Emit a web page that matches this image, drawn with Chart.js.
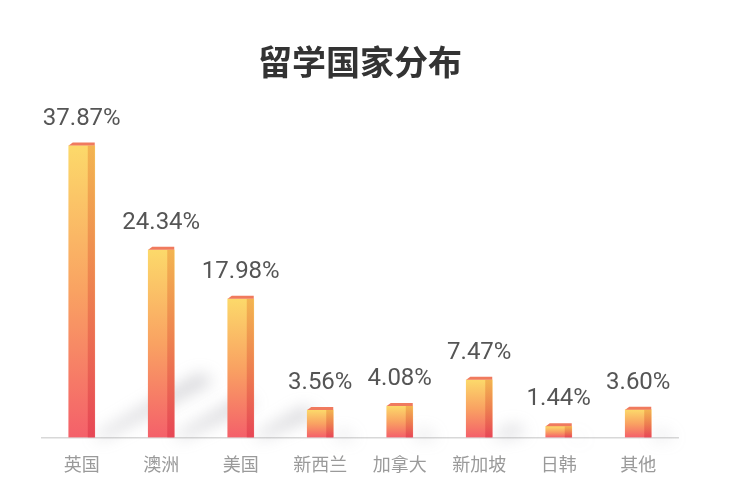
<!DOCTYPE html>
<html>
<head>
<meta charset="utf-8">
<script src="https://cdn.jsdelivr.net/npm/chart.js@4"></script>
<style>
  html, body { margin: 0; padding: 0; background: #fff; }
  #wrap { width: 736px; height: 500px; }
</style>
</head>
<body>
<div id="wrap"><canvas id="countryChart"></canvas></div>
<script>
// 留学国家分布 data
const countries = ['英国', '澳洲', '美国', '新西兰', '加拿大', '新加坡', '日韩', '其他'];
const shares = [37.87, 24.34, 17.98, 3.56, 4.08, 7.47, 1.44, 3.60];
const shareLabels = ['37.87%', '24.34%', '17.98%', '3.56%', '4.08%', '7.47%', '1.44%', '3.60%'];

// fake 3D look: ground shadow, right face, top cap
const barDecor = {
  id: 'barDecor',
  beforeDatasetsDraw(chart) {
    const ctx = chart.ctx;
    const meta = chart.getDatasetMeta(0);
    ctx.save();
    ctx.filter = 'blur(8px)';
    ctx.fillStyle = 'rgba(140,140,150,0.38)';
    meta.data.forEach(bar => {
      const h = bar.base - bar.y;
      const half = bar.width / 2;
      const dx = h * 0.36, dy = h * 0.22;
      ctx.beginPath();
      ctx.moveTo(bar.x + half - 2, bar.base);
      ctx.lineTo(bar.x + half + dx, bar.base - dy);
      ctx.lineTo(bar.x + half + dx + 14, bar.base - dy + 8);
      ctx.lineTo(bar.x + half + 10, bar.base);
      ctx.closePath();
      ctx.fill();
    });
    ctx.restore();
  },
  afterDatasetsDraw(chart) {
    const ctx = chart.ctx;
    const meta = chart.getDatasetMeta(0);
    ctx.save();
    meta.data.forEach((bar, i) => {
      const half = bar.width / 2;
      const right = bar.x + half;
      const faceW = 7;
      // right side face
      const g = ctx.createLinearGradient(0, bar.y, 0, bar.base);
      g.addColorStop(0, 'rgba(235,150,60,0.55)');
      g.addColorStop(1, 'rgba(220,50,70,0.55)');
      ctx.fillStyle = g;
      ctx.fillRect(right - faceW, bar.y, faceW, bar.base - bar.y);
      // top cap
      ctx.fillStyle = '#f07a5e';
      ctx.beginPath();
      ctx.moveTo(bar.x - half, bar.y);
      ctx.lineTo(bar.x - half + 4, bar.y - 3);
      ctx.lineTo(right, bar.y - 3);
      ctx.lineTo(right, bar.y);
      ctx.closePath();
      ctx.fill();
      // value label
      ctx.fillStyle = '#555';
      ctx.font = '24px Roboto, "Noto Sans CJK SC", sans-serif';
      ctx.textAlign = 'center';
      ctx.textBaseline = 'alphabetic';
      ctx.fillText(shareLabels[i], bar.x, bar.y - 21);
    });
    ctx.restore();
  }
};

document.addEventListener('DOMContentLoaded', () => {
  const ctx = document.getElementById('countryChart').getContext('2d');
  new Chart(ctx, {
    type: 'bar',
    data: {
      labels: countries,
      datasets: [{
        label: '留学国家分布',
        data: shares,
        barThickness: 26,
        borderWidth: 0,
        backgroundColor: (c) => {
          const area = c.chart.chartArea;
          if (!area) return '#f8a05a';
          const y0 = c.chart.scales.y.getPixelForValue(c.raw || 0);
          const y1 = c.chart.scales.y.getPixelForValue(0);
          const g = c.chart.ctx.createLinearGradient(0, y0, 0, y1);
          g.addColorStop(0, '#fcd96a');
          g.addColorStop(0.5, '#f9a262');
          g.addColorStop(1, '#f4606a');
          return g;
        }
      }]
    },
    options: {
      responsive: true,
      maintainAspectRatio: false,
      animation: false,
      layout: { padding: { left: 42, right: 58, top: 0, bottom: 9 } },
      plugins: {
        legend: { display: false },
        tooltip: { enabled: false },
        title: {
          display: true,
          text: '留学国家分布',
          color: '#333',
          font: { size: 34, weight: 'bold', family: '"Noto Sans CJK SC", sans-serif' },
          padding: { top: 42, bottom: 31 }
        }
      },
      scales: {
        y: {
          display: false,
          min: 0,
          max: 42
        },
        x: {
          grid: { display: false, drawTicks: false },
          border: { display: true, color: '#d8d8d8', width: 1.5 },
          ticks: {
            color: '#9a9a9a',
            padding: 16,
            font: { size: 18, family: '"Noto Sans CJK SC", sans-serif' }
          }
        }
      }
    },
    plugins: [barDecor]
  });
});
</script>
</body>
</html>
